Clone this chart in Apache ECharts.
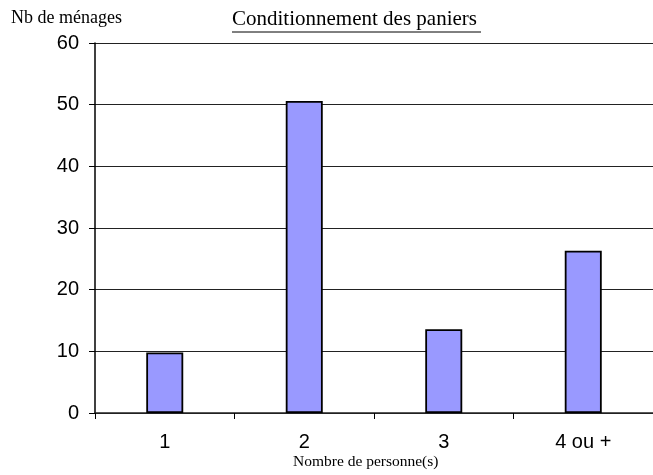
<!DOCTYPE html>
<html><head><meta charset="utf-8">
<script src="https://cdn.jsdelivr.net/npm/echarts@6/dist/echarts.min.js"></script>
<style>html,body{margin:0;padding:0;background:#fff}#c{width:653px;height:475px}</style>
</head><body><div id="c"></div>
<script>
const categories = ['1', '2', '3', '4 ou +'];
const menages = [9.8, 50.6, 13.6, 26.3];
const yTicks = [0, 10, 20, 30, 40, 50, 60];
const titleText = 'Conditionnement des paniers';
const yName = 'Nb de ménages';
const xName = 'Nombre de personne(s)';

const chart = echarts.init(document.getElementById('c'), null, {renderer: 'canvas'});
chart.setOption({
  animation: false,
  backgroundColor: '#fff',
  grid: {left: 95, right: 0, top: 43, bottom: 62, containLabel: false},
  xAxis: {
    type: 'category', data: categories, boundaryGap: true,
    axisLine: {show: true, lineStyle: {color: '#222', width: 1.5}},
    axisTick: {show: true, length: 6, inside: false, alignWithLabel: false, lineStyle: {color: '#000'}},
    axisLabel: {fontFamily: 'Liberation Sans, Arial', fontSize: 20, color: '#000', margin: 19},
    splitLine: {show: false}
  },
  yAxis: {
    type: 'value', min: yTicks[0], max: yTicks[yTicks.length - 1], interval: 10,
    axisLine: {show: true, lineStyle: {color: '#000', width: 1.5}},
    axisTick: {show: true, length: 6, lineStyle: {color: '#000'}},
    axisLabel: {fontFamily: 'Liberation Sans, Arial', fontSize: 20, color: '#000', margin: 16},
    splitLine: {show: true, lineStyle: {color: '#222', width: 1}}
  },
  series: [{
    type: 'bar', data: menages, barWidth: 37,
    itemStyle: {color: '#9999FF', borderColor: '#000', borderWidth: 1.8}
  }],
  graphic: [
    {type: 'text', left: 11, top: 9, style: {text: yName, font: '18px "Liberation Serif", "Times New Roman", serif', fill: '#000'}},
    {type: 'text', left: 232, top: 9, style: {text: titleText, font: '21px "Liberation Serif", "Times New Roman", serif', fill: '#000'}},
    {type: 'line', shape: {x1: 232, y1: 32, x2: 481, y2: 32}, style: {stroke: '#000', lineWidth: 1}},
    {type: 'text', left: 293, top: 454, style: {text: xName, font: '15.5px "Liberation Serif", "Times New Roman", serif', fill: '#000'}}
  ]
});
</script></body></html>
